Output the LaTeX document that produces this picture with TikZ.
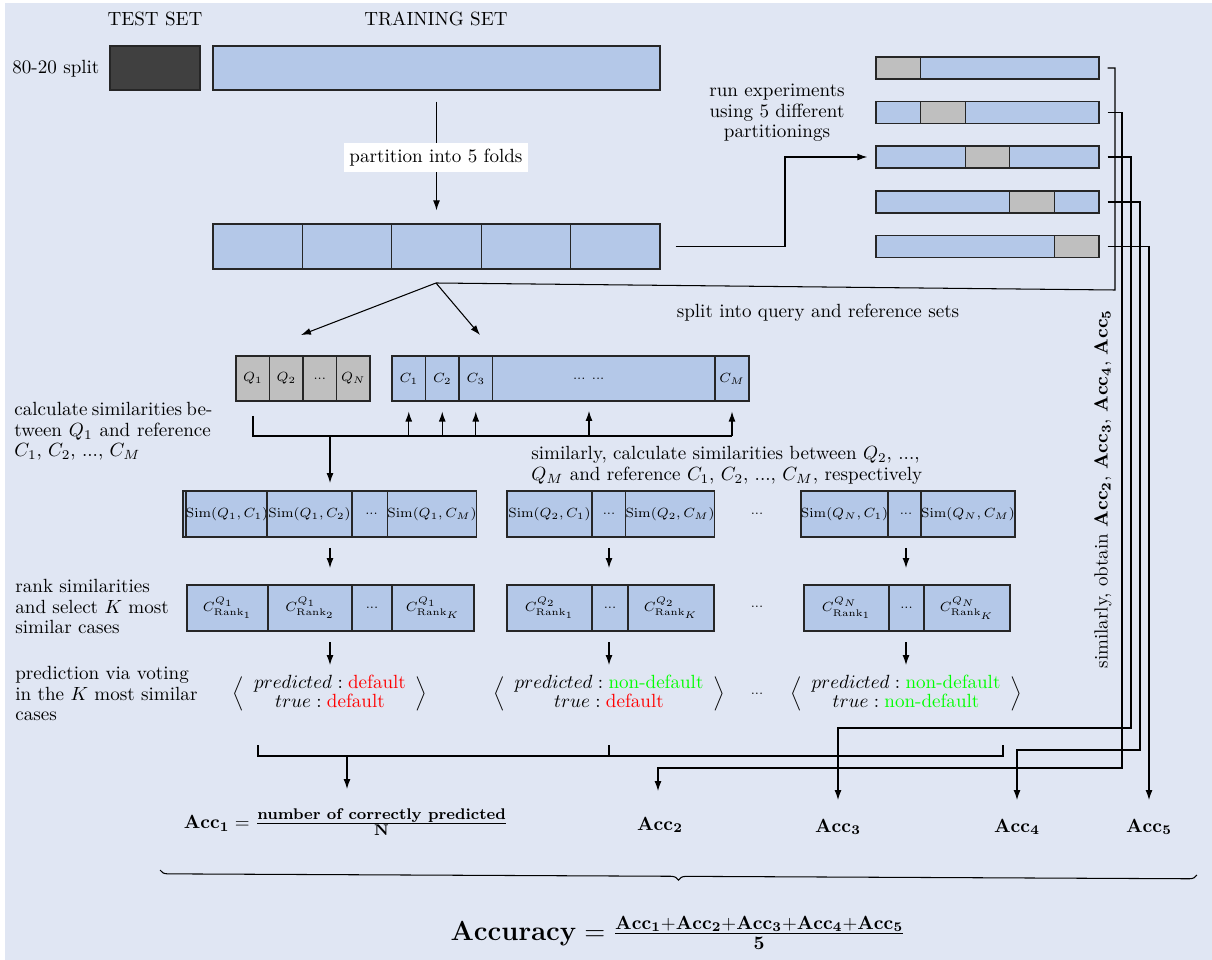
\documentclass[tikz,border=0pt]{standalone}
\usepackage{amsmath}
\usetikzlibrary{arrows.meta,decorations.pathreplacing,calc}
\definecolor{bgc}{HTML}{E0E6F3}
\definecolor{bluec}{HTML}{B4C8E8}
\definecolor{grayc}{HTML}{BFBFBF}
\definecolor{darkc}{HTML}{404040}
\definecolor{edgec}{HTML}{262626}
\newcommand\cellnode[7]{\node[cellst, fill=#6, minimum width={(#4-#2)*0.524pt}, minimum height={(#5-#3)*0.524pt}] (#1) at ({(#2+#4)/2},{(#3+#5)/2}) {#7};}
\newcommand\predbox[2]{$\renewcommand\arraystretch{0.8}\left\langle\hspace{5pt}\begin{array}{@{}c@{}} predicted : #1 \\ true : #2\end{array}\hspace{5pt}\right\rangle$}
\begin{document}
\begin{tikzpicture}[x=0.524pt, y=-0.524pt,
  font=\fontsize{10}{12}\selectfont,
  cellst/.style={draw=edgec, line width=0.7pt, inner sep=0pt, font=\fontsize{6.7}{8}\selectfont},
  conn/.style={line width=0.55pt},
  arr/.style={conn, -{Latex[length=5.2pt,width=3.6pt]}},
  para/.style={anchor=north west, inner sep=0pt, font=\fontsize{10}{10.8}\selectfont}]
\useasboundingbox (0,0) rectangle (1212,960);
\fill[bgc] (5,3) rectangle (1212,960);

% top
\node (testlbl) at (155,19) {TEST SET};
\node (trainlbl) at (436,19) {TRAINING SET};
\node[anchor=west, inner sep=0pt] (splitlbl) at (12,69) {80-20 split};
\cellnode{test}{110}{46}{200}{90}{darkc}{}
\cellnode{train}{213}{46}{660}{90}{bluec}{}
\cellnode{f1}{213}{224}{302.4}{269}{bluec}{}
\cellnode{f2}{302.4}{224}{391.8}{269}{bluec}{}
\cellnode{f3}{391.8}{224}{481.2}{269}{bluec}{}
\cellnode{f4}{481.2}{224}{570.6}{269}{bluec}{}
\cellnode{f5}{570.6}{224}{660}{269}{bluec}{}
\draw[arr, shorten <=5.8pt, shorten >=6.8pt] (train.south) -- (train.south |- f3.north);
\node[fill=white, inner xsep=3pt, minimum height=15.2pt] (partlbl) at (436,157.5) {partition into 5 folds};

% partitionings
\node[align=center, font=\fontsize{10}{10.8}\selectfont] (runlbl) at (777,113) {run experiments\\using 5 different\\partitionings};
\cellnode{bar1}{876}{57}{1099}{79}{bluec}{}
\cellnode{g1}{876}{57}{920.6}{79}{grayc}{}
\cellnode{bar2}{876}{101.5}{1099}{123.5}{bluec}{}
\cellnode{g2}{920.6}{101.5}{965.2}{123.5}{grayc}{}
\cellnode{bar3}{876}{146}{1099}{168}{bluec}{}
\cellnode{g3}{965.2}{146}{1009.8}{168}{grayc}{}
\cellnode{bar4}{876}{191}{1099}{213}{bluec}{}
\cellnode{g4}{1009.8}{191}{1054.4}{213}{grayc}{}
\cellnode{bar5}{876}{235.5}{1099}{257.5}{bluec}{}
\cellnode{g5}{1054.4}{235.5}{1099}{257.5}{grayc}{}
\coordinate (bendrun) at (785,157);
\draw[arr, shorten <=7.8pt, shorten >=4.2pt] (f5.east) -| (bendrun) -- (bar3.west);

% split
\coordinate (sp) at (436,283);
\coordinate (qin) at (301,335);
\coordinate (cin) at (480,335);
\draw[conn, shorten <=4.2pt] (bar1.east) -- (1115,68) -- (1115,290) -- (sp);
\draw[arr] (sp) -- (qin);
\draw[arr] (sp) -- (cin);
\node (splitqr) at (818,313) {split into query and reference sets};

% accuracy routes
\coordinate (t2) at (658,791);
\coordinate (t3) at (838,800);
\coordinate (t4) at (1017,800);
\coordinate (t5) at (1149,800);
\draw[arr, shorten <=4.2pt] (bar2.east) -- (1122,112.5) -- (1122,768) -- (658,768) -- (t2);
\draw[arr, shorten <=4.2pt] (bar3.east) -- (1131,157) -- (1131,728) -- (838,728) -- (t3);
\draw[arr, shorten <=4.2pt] (bar4.east) -- (1140,202) -- (1140,750) -- (1017,750) -- (t4);
\draw[arr, shorten <=4.2pt] (bar5.east) -- (1149,246.5) -- (t5);
\node[rotate=90] (simobt) at (1103,489) {similarly, obtain $\mathbf{Acc_2}$, $\mathbf{Acc_3}$, $\mathbf{Acc_4}$, $\mathbf{Acc_5}$};

% query / reference
\cellnode{q1}{236}{356}{269.5}{401}{grayc}{$Q_1$}
\cellnode{q2}{269.5}{356}{303}{401}{grayc}{$Q_2$}
\cellnode{qd}{303}{356}{336.5}{401}{grayc}{...}
\cellnode{qn}{336.5}{356}{370}{401}{grayc}{$Q_N$}
\cellnode{c1}{392}{356}{425.5}{401}{bluec}{$C_1$}
\cellnode{c2}{425.5}{356}{459}{401}{bluec}{$C_2$}
\cellnode{c3}{459}{356}{492.5}{401}{bluec}{$C_3$}
\cellnode{cd}{492.5}{356}{715}{401}{bluec}{\hspace*{-15.8pt}... ...}
\cellnode{cm}{715}{356}{749}{401}{bluec}{$C_M$}
\coordinate (busy) at (0,436);
\coordinate (cdx) at (589,401);
\draw[conn, line width=0.8pt] (253,416) -- (253,436) -- (cm.south |- busy);
\draw[arr, shorten >=5.2pt] (c1.south |- busy) -- (c1.south);
\draw[arr, shorten >=5.2pt] (c2.south |- busy) -- (c2.south);
\draw[arr, shorten >=5.2pt] (c3.south |- busy) -- (c3.south);
\draw[arr, shorten >=5.2pt] (cdx |- busy) -- (cdx);
\draw[arr, shorten >=5.2pt] (cm.south |- busy) -- (cm.south);
\draw[arr] (330,436) -- (330,483);

\node[para, align=left] (calcl) at (14,402) {\makebox[103pt][s]{calculate similarities be-}\\\makebox[103pt][s]{tween $Q_1$ and reference}\\$C_1$, $C_2$, ..., $C_M$};
\node[para, align=left] (simil) at (531,446) {similarly, calculate similarities between $Q_2$, ...,\\$Q_M$ and reference $C_1$, $C_2$, ..., $C_M$, respectively};

% similarity rows
\cellnode{s10}{183}{491}{187}{537}{bluec}{}
\cellnode{s11}{187}{491}{267}{537}{bluec}{$\mathrm{Sim}(Q_1,C_1)$}
\cellnode{s12}{267}{491}{352}{537}{bluec}{$\mathrm{Sim}(Q_1,C_2)$}
\cellnode{s1d}{352}{491}{391}{537}{bluec}{...}
\cellnode{s1m}{391}{491}{473}{537}{bluec}{$\mathrm{Sim}(Q_1,C_M)$}
\cellnode{s21}{507}{491}{592}{537}{bluec}{$\mathrm{Sim}(Q_2,C_1)$}
\cellnode{s2d}{592}{491}{626}{537}{bluec}{...}
\cellnode{s2m}{626}{491}{714}{537}{bluec}{$\mathrm{Sim}(Q_2,C_M)$}
\node[font=\fontsize{6.7}{8}\selectfont] (sdots) at (757,514) {...};
\cellnode{s31}{801}{491}{888}{537}{bluec}{$\mathrm{Sim}(Q_N,C_1)$}
\cellnode{s3d}{888}{491}{924}{537}{bluec}{...}
\cellnode{s3m}{924}{491}{1012}{537}{bluec}{$\mathrm{Sim}(Q_N,C_M)$}

\draw[arr] (330,548) -- (330,568);
\draw[arr] (609,548) -- (609,568);
\draw[arr] (906,548) -- (906,568);

% rank rows
\node[para, align=left] (rankl) at (15,579) {rank similarities\\and select $K$ most\\similar cases};
\cellnode{r11}{187}{585}{268}{631}{bluec}{$C^{Q_1}_{\mathrm{Rank}_1}$}
\cellnode{r12}{268}{585}{352}{631}{bluec}{$C^{Q_1}_{\mathrm{Rank}_2}$}
\cellnode{r1d}{352}{585}{392}{631}{bluec}{...}
\cellnode{r1k}{392}{585}{474}{631}{bluec}{$C^{Q_1}_{\mathrm{Rank}_K}$}
\cellnode{r21}{507}{585}{592}{631}{bluec}{$C^{Q_2}_{\mathrm{Rank}_1}$}
\cellnode{r2d}{592}{585}{628}{631}{bluec}{...}
\cellnode{r2k}{628}{585}{714}{631}{bluec}{$C^{Q_2}_{\mathrm{Rank}_K}$}
\node[font=\fontsize{6.7}{8}\selectfont] (rdots) at (757,607) {...};
\cellnode{r31}{804}{585}{889}{631}{bluec}{$C^{Q_N}_{\mathrm{Rank}_1}$}
\cellnode{r3d}{889}{585}{924}{631}{bluec}{...}
\cellnode{r3k}{924}{585}{1010}{631}{bluec}{$C^{Q_N}_{\mathrm{Rank}_K}$}

\draw[arr] (330,642) -- (330,665);
\draw[arr] (609,642) -- (609,665);
\draw[arr] (906,642) -- (906,665);

% predictions
\node[para, align=left] (predl) at (15,666) {prediction via voting\\in the $K$ most similar\\cases};
\node (pred1) at (330,694) {\predbox{\textcolor{red}{\text{default}}}{\textcolor{red}{\text{default}}}};
\node (pred2) at (609,694) {\predbox{\textcolor{green}{\text{non-default}}}{\textcolor{red}{\text{default}}}};
\node[font=\fontsize{6.7}{8}\selectfont] (pdots) at (757,694) {...};
\node (pred3) at (906,694) {\predbox{\textcolor{green}{\text{non-default}}}{\textcolor{green}{\text{non-default}}}};

\draw[conn] (258,745) -- (258,756) -- (1003,756) -- (1003,745);
\draw[conn] (609,745) -- (609,756);
\draw[arr] (347,756) -- (347,789);

% accuracies
\node (acc1) at (346,822) {$\mathbf{Acc_1} = \frac{\text{\fontsize{8.1}{9.5}\selectfont\bfseries number of correctly predicted}}{\text{\fontsize{8.1}{9.5}\selectfont\bfseries N}}$};
\node (acc2) at (660,825) {$\mathbf{Acc_2}$};
\node (acc3) at (838,827) {$\mathbf{Acc_3}$};
\node (acc4) at (1017,827) {$\mathbf{Acc_4}$};
\node (acc5) at (1149,827) {$\mathbf{Acc_5}$};

\draw[conn, decorate, decoration={brace, mirror, amplitude=4pt}] (160,870) -- (1197,875);
\node[font=\fontsize{14}{16}\selectfont] (accuracy) at (678,933) {$\mathbf{Accuracy} = \frac{\text{\fontsize{10.3}{12}\selectfont$\mathbf{Acc_1}{+}\mathbf{Acc_2}{+}\mathbf{Acc_3}{+}\mathbf{Acc_4}{+}\mathbf{Acc_5}$}}{\text{\fontsize{10.3}{12}\selectfont$\mathbf{5}$}}$};
\end{tikzpicture}
\end{document}
